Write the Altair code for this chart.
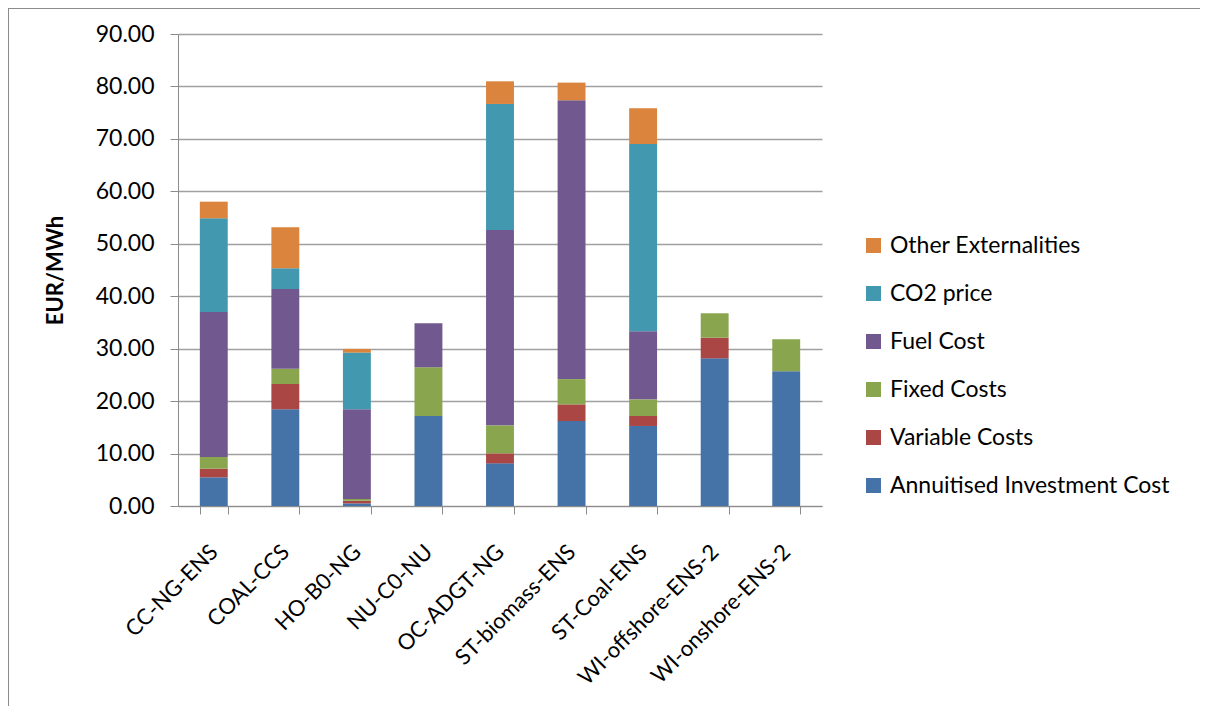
import altair as alt
import pandas as pd

categories = ["CC-NG-ENS", "COAL-CCS", "HO-B0-NG", "NU-C0-NU", "OC-ADGT-NG",
              "ST-biomass-ENS", "ST-Coal-ENS", "WI-offshore-ENS-2", "WI-onshore-ENS-2"]

series_names = ["Annuitised Investment Cost", "Variable Costs", "Fixed Costs",
                "Fuel Cost", "CO2 price", "Other Externalities"]

annuitised = [5.47, 18.44, 0.50, 17.16, 8.13, 16.20, 15.26, 28.16, 25.68]
variable   = [1.65, 4.82, 0.50, 0.00, 1.91, 3.18, 1.90, 3.94, 0.00]
fixed      = [2.22, 2.92, 0.35, 9.30, 5.34, 4.82, 3.18, 4.65, 6.10]
fuel       = [27.66, 15.20, 17.10, 8.40, 37.25, 53.16, 12.96, 0.00, 0.00]
co2        = [17.86, 3.94, 10.80, 0.00, 24.03, 0.00, 35.73, 0.00, 0.00]
other      = [3.17, 7.82, 0.70, 0.00, 4.32, 3.37, 6.81, 0.00, 0.00]

colors = ["#4572A7", "#AA4643", "#89A54E", "#71588F", "#4198AF", "#DB843D"]

series_values = [annuitised, variable, fixed, fuel, co2, other]
rows = []
for si, (name, vals) in enumerate(zip(series_names, series_values)):
    for cat, v in zip(categories, vals):
        rows.append({"Technology": cat, "Component": name, "Value": v, "order": si})
df = pd.DataFrame(rows)

FONT = "Lato"

bars = alt.Chart(df).mark_bar().encode(
    x=alt.X("Technology:N", sort=categories,
            scale=alt.Scale(paddingInner=0.61, paddingOuter=0.305),
            axis=alt.Axis(title=None, labelAngle=-45, labelAlign="right",
                          labelBaseline="middle", labelPadding=34,
                          tickBand="extent", tickSize=8, tickColor="#8c8c8c",
                          domainColor="#8c8c8c", labelFontSize=22,
                          labelLimit=400,
                          labelColor="#000000", labelFont=FONT, grid=False)),
    y=alt.Y("Value:Q", stack="zero",
            scale=alt.Scale(domain=[0, 90], nice=False),
            axis=alt.Axis(title="EUR/MWh", values=list(range(0, 91, 10)),
                          format=".2f", tickSize=8, tickColor="#8c8c8c",
                          domainColor="#8c8c8c", gridColor="#a0a0a0",
                          gridWidth=1.5, labelFontSize=23, labelPadding=16,
                          labelColor="#000000", labelFont=FONT,
                          titleFontSize=22, titleFontWeight="bold",
                          titleFont=FONT, titleColor="#000000",
                          titlePadding=28)),
    color=alt.Color("Component:N",
                    scale=alt.Scale(domain=series_names[::-1], range=colors[::-1]),
                    legend=alt.Legend(title=None, orient="none", legendX=684,
                                      legendY=200, symbolType="square",
                                      symbolSize=225, symbolStrokeWidth=0,
                                      labelFontSize=23, labelFont=FONT,
                                      labelLimit=500,
                                      labelColor="#000000", rowPadding=24,
                                      labelOffset=5)),
    order=alt.Order("order:Q", sort="ascending"),
)

border_left = alt.Chart(pd.DataFrame({"k": [0]})).mark_rule(
    color="#8c8c8c", strokeWidth=2).encode(
    x=alt.value(-170), y=alt.value(-26), y2=alt.value(720))
border_top = alt.Chart(pd.DataFrame({"k": [0]})).mark_rule(
    color="#8c8c8c", strokeWidth=2).encode(
    x=alt.value(-170), x2=alt.value(1060), y=alt.value(-26))

chart = alt.layer(bars, border_left, border_top).properties(
    width=644, height=472,
    autosize=alt.AutoSizeParams(type="none"),
    padding={"left": 170, "top": 26, "right": 378, "bottom": 200},
    background="#ffffff",
).configure_view(stroke=None)

chart.save("out.html", embed_options={"renderer": "svg", "actions": False})
